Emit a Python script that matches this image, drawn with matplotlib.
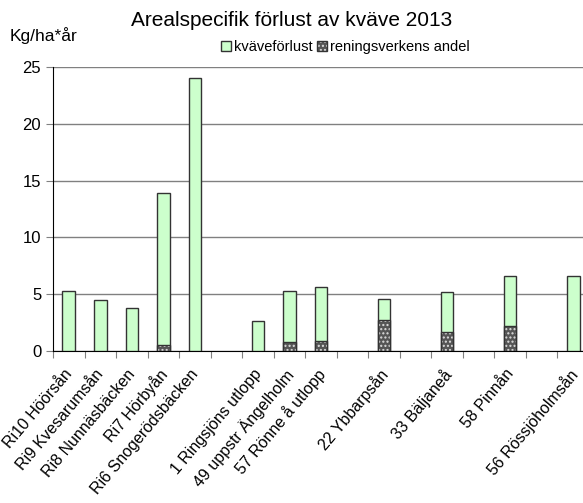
import numpy as np
import matplotlib.pyplot as plt
import matplotlib.transforms as mtransforms

plt.rcParams['font.family'] = ['Liberation Sans', 'DejaVu Sans']

# data (empty slots are gaps between groups)
labels = ["Ri10 Höörsån", "Ri9 Kvesarumsån", "Ri8 Nunnäsbäcken", "Ri7 Hörbyån",
          "Ri6 Snogerödsbäcken", "", "1 Ringsjöns utlopp", "49 uppstr Ängelholm",
          "57 Rönne å utlopp", "", "22 Ybbarpsån", "", "33 Bäljaneå", "",
          "58 Pinnån", "", "56 Rössjöholmsån"]
kvavforlust = [5.3, 4.5, 3.8, 13.9, 24.0, 0, 2.65, 5.3, 5.6, 0, 4.6, 0, 5.2, 0, 6.6, 0, 6.6]
reningsverk = [0, 0, 0, 0.5, 0, 0, 0, 0.8, 0.9, 0, 2.7, 0, 1.7, 0, 2.2, 0, 0]

x = np.arange(len(labels))
kv = np.array(kvavforlust, dtype=float)
rv = np.array(reningsverk, dtype=float)
m1 = kv > 0
m2 = rv > 0

fig = plt.figure(figsize=(5.83, 5.03), dpi=100)
ax = fig.add_axes([53/583, 152/503, 536/583, 284/503])

b1 = ax.bar(x[m1], kv[m1], width=0.4, color='#ccffcc', edgecolor='#333333',
            linewidth=1.0, label='kväveförlust', zorder=3)
# dark fill with light dots, then an outline on top
b2a = ax.bar(x[m2], rv[m2], width=0.4, color='#555555', edgecolor='#dddddd',
             hatch='....', linewidth=0, zorder=4)
b2b = ax.bar(x[m2], rv[m2], width=0.4, fill=False, edgecolor='#333333',
             linewidth=1.0, zorder=5)

ax.set_ylim(0, 25)
ax.set_yticks([0, 5, 10, 15, 20, 25])
ax.set_xlim(-0.5, len(labels) - 0.5)
ax.yaxis.grid(True, color='#808080', linewidth=1.0, zorder=0)
ax.set_axisbelow(True)

# ticks at slot borders, labels at slot centres
ax.set_xticks(np.arange(len(labels) + 1) - 0.5)
ax.set_xticklabels([])
ax.set_xticks(x, minor=True)
ax.set_xticklabels(labels, minor=True, rotation=50, ha='right',
                   rotation_mode='anchor', fontsize=11.5)
ax.tick_params(axis='x', which='major', length=5, color='#808080', direction='out')
ax.tick_params(axis='x', which='minor', length=0, pad=11)
ax.tick_params(axis='y', length=5, labelsize=12, color='#808080')
shift = mtransforms.ScaledTranslation(-5/100, 0, fig.dpi_scale_trans)
for t in ax.get_xticklabels(minor=True):
    t.set_transform(t.get_transform() + shift)

ax.spines['top'].set_visible(False)
ax.spines['right'].set_visible(False)
ax.spines['left'].set_color('black')
ax.spines['bottom'].set_color('black')

fig.text(0.5, 0.96, "Arealspecifik förlust av kväve 2013", ha='center',
         va='center', fontsize=15)
fig.text(10/583, 1 - 36/503, "Kg/ha*år", ha='left', va='center', fontsize=12.5)
fig.legend(handles=[b1, (b2a, b2b)], labels=['kväveförlust', 'reningsverkens andel'],
           loc='center', bbox_to_anchor=(345/583, 1 - 47/503),
           ncol=2, frameon=False, fontsize=10.5, handlelength=0.7, handleheight=0.7,
           handletextpad=0.2, columnspacing=0.3, borderpad=0)

fig.savefig('out.png', dpi=100)
